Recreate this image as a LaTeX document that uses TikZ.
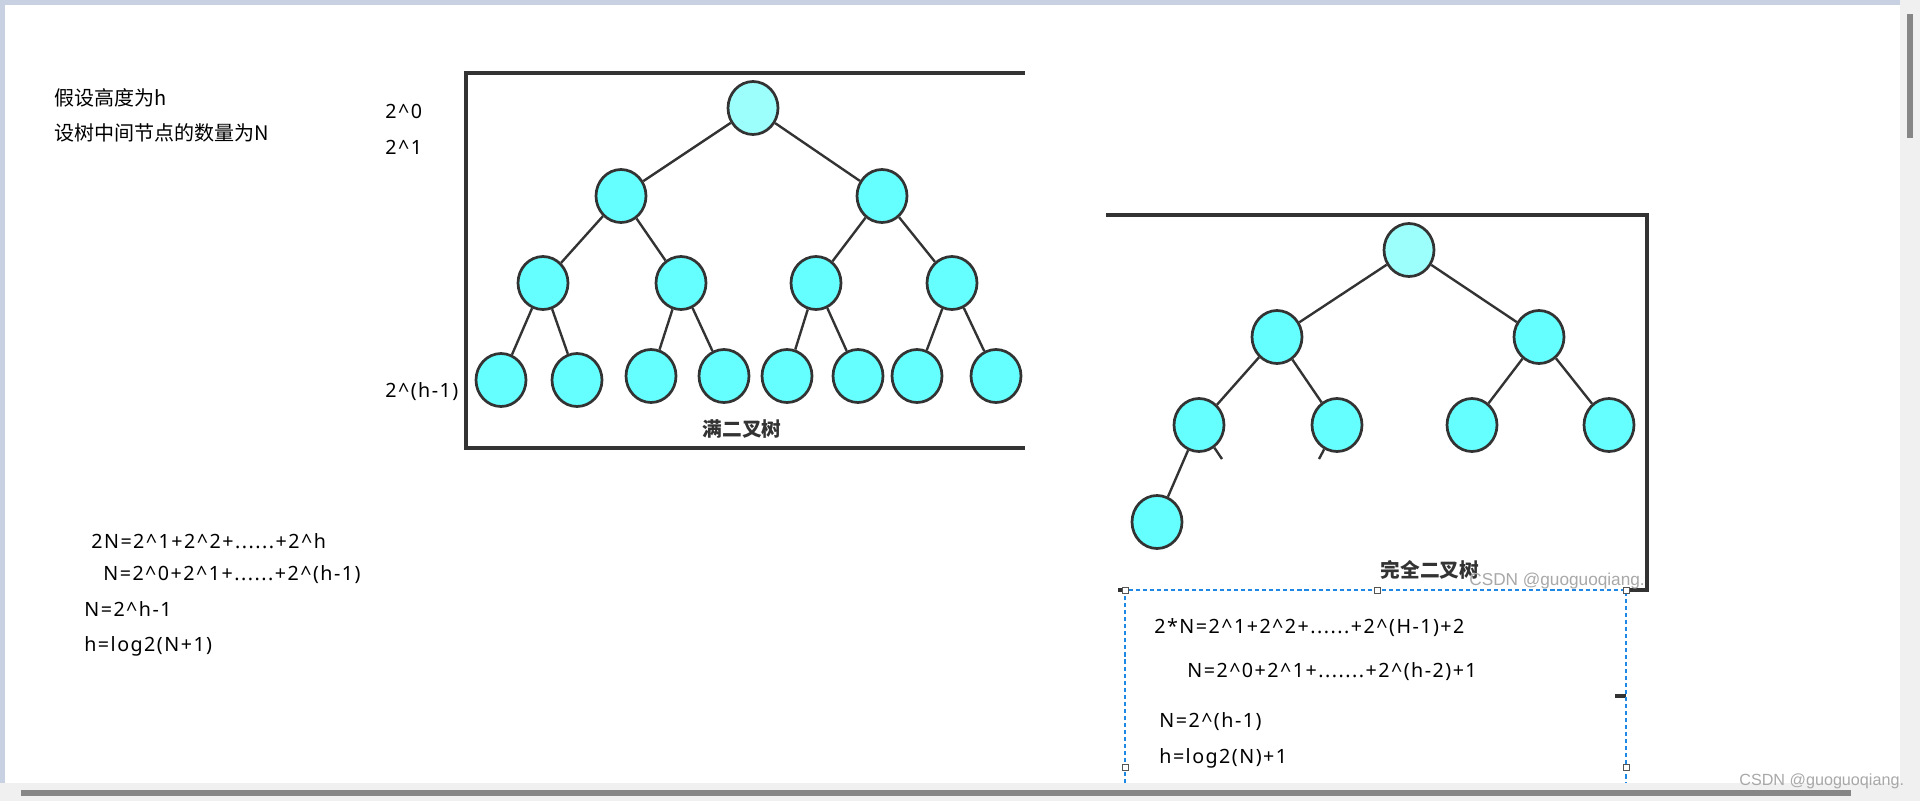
\documentclass[tikz,border=0pt]{standalone}
\usepackage{fontspec}
\setmainfont{Noto Sans CJK SC}
\newfontfamily\markfont{Liberation Sans}
\newfontfamily\formfont[LetterSpace=7.5]{Noto Sans}
\usepackage{xcolor}
\usepackage{tikz}
\usetikzlibrary{shapes.geometric, positioning}
\definecolor{treeCyan}{HTML}{66FFFF}
\definecolor{treeRoot}{HTML}{9CFFFC}
\definecolor{treeLine}{HTML}{333333}
\definecolor{selBlue}{HTML}{1E88E5}
\definecolor{pageStrip}{HTML}{C7D1E1}
\definecolor{barGrey}{HTML}{F0F0F0}
\definecolor{thumbGrey}{HTML}{868686}
\definecolor{markGrey}{HTML}{A8A8A8}
\definecolor{handleGrey}{HTML}{555555}
\newcommand{\bodyfs}{\fontsize{11.4pt}{14pt}\selectfont}
\newcommand{\formfs}{\fontsize{11.2pt}{14pt}\selectfont\formfont}
\newcommand{\labelfs}{\fontsize{11.2pt}{14pt}\selectfont\bfseries}
\newcommand{\markfs}{\fontsize{9.8pt}{12pt}\selectfont\markfont}
\tikzset{
  bt/node/.style   = {ellipse, draw=treeLine, fill=treeCyan, line width=1.55pt,
                      minimum width=1.0cm, minimum height=1.06cm, inner sep=0pt},
  bt/root/.style   = {bt/node, fill=treeRoot},
  bt/edge/.style   = {draw=treeLine, line width=1.35pt},
  bt/frame/.style  = {draw=treeLine, line width=1.75pt},
  bt/text/.style   = {anchor=west, inner sep=0pt, font=\bodyfs, text=black},
  bt/form/.style   = {bt/text, font=\formfs},
  bt/label/.style  = {inner sep=0pt, font=\labelfs, text=treeLine},
  bt/mark/.style   = {anchor=west, inner sep=0pt, font=\markfs, text=markGrey},
  bt/select/.style = {draw=selBlue, line width=0.6pt, dash pattern=on 2.3pt off 1.7pt},
  bt/handle/.style = {rectangle, draw=handleGrey, fill=white, line width=0.5pt,
                      minimum size=0.12cm, inner sep=0pt},
}

\begin{document}
\begin{tikzpicture}[x=0.02cm, y=-0.02cm]
  % --- page, strips and scroll bars ---
  \useasboundingbox (0,0) rectangle (1920,801);
  \fill[white] (0,0) rectangle (1920,801);
  \fill[pageStrip] (0,0) rectangle (1900,5);
  \fill[pageStrip] (0,0) rectangle (5,783);
  \fill[barGrey] (1900,0) rectangle (1920,801);
  \fill[barGrey] (0,783) rectangle (1920,801);
  \fill[thumbGrey] (1907,14) rectangle (1913,138);
  \fill[thumbGrey] (21,790) rectangle (1851,796);

  % --- notes on the left ---
  \node[bt/text] (tH)   at (54,98)   {假设高度为h};
  \node[bt/text] (tN)   at (54,133)  {设树中间节点的数量为N};
  \node[bt/form] (lv0)  at (385,111) {2\^{}0};
  \node[bt/form] (lv1)  at (385,147) {2\^{}1};
  \node[bt/form] (lvh)  at (385,392) {2\^{}(h-1)};
  \node[bt/form] (fA)   at (91,541)  {2N=2\^{}1+2\^{}2+......+2\^{}h};
  \node[bt/form] (fB)   at (103,575) {N=2\^{}0+2\^{}1+......+2\^{}(h-1)};
  \node[bt/form] (fC)   at (84,609)  {N=2\^{}h-1};
  \node[bt/form] (fD)   at (84,646)  {h=log2(N+1)};

  % --- full binary tree ---
  \draw[bt/frame] (1025,73) -- (466,73) -- (466,448) -- (1025,448);
  \node[bt/root] (f0)  at (753,108) {};
  \node[bt/node] (f1a) at (621,196) {};
  \node[bt/node] (f1b) at (882,196) {};
  \node[bt/node] (f2a) at (543,283) {};
  \node[bt/node] (f2b) at (681,283) {};
  \node[bt/node] (f2c) at (816,283) {};
  \node[bt/node] (f2d) at (952,283) {};
  \node[bt/node] (f3a) at (501,380) {};
  \node[bt/node] (f3b) at (577,380) {};
  \node[bt/node] (f3c) at (651,376) {};
  \node[bt/node] (f3d) at (724,376) {};
  \node[bt/node] (f3e) at (787,376) {};
  \node[bt/node] (f3f) at (858,376) {};
  \node[bt/node] (f3g) at (917,376) {};
  \node[bt/node] (f3h) at (996,376) {};
  \foreach \a/\b in {f0/f1a, f0/f1b, f1a/f2a, f1a/f2b, f1b/f2c, f1b/f2d,
                     f2a/f3a, f2a/f3b, f2b/f3c, f2b/f3d, f2c/f3e, f2c/f3f, f2d/f3g, f2d/f3h}
    \draw[bt/edge] (\a) -- (\b);
  \node[bt/label] (fullLbl) at (742,429) {满二叉树};

  % --- complete binary tree ---
  \draw[bt/frame] (1106,215) -- (1647,215) -- (1647,590) -- (1626,590);
  \draw[bt/frame] (1118,590) -- (1125,590);
  \draw[bt/frame] (1615,696) -- (1626,696);
  \node[bt/root] (c0)  at (1409,250) {};
  \node[bt/node] (c1a) at (1277,337) {};
  \node[bt/node] (c1b) at (1539,337) {};
  \node[bt/node] (c2a) at (1199,425) {};
  \node[bt/node] (c2b) at (1337,425) {};
  \node[bt/node] (c2c) at (1472,425) {};
  \node[bt/node] (c2d) at (1609,425) {};
  \node[bt/node] (c3a) at (1157,522) {};
  \coordinate (cs1) at (1222,459);
  \coordinate (cs2) at (1319,459);
  \foreach \a/\b in {c0/c1a, c0/c1b, c1a/c2a, c1a/c2b, c1b/c2c, c1b/c2d, c2a/c3a, c2a/cs1, c2b/cs2}
    \draw[bt/edge] (\a) -- (\b);
  \node[bt/label] (compLbl) at (1430,570) {完全二叉树};
  \node[bt/mark] (mark1) at (1469,581) {CSDN @guoguoqiang.};

  % --- selected text box with formulas ---
  \draw[bt/select] (1125,783) -- (1125,590) -- (1626,590) -- (1626,783);
  \node[bt/handle] (h1) at (1125,590) {};
  \node[bt/handle] (h2) at (1377,590) {};
  \node[bt/handle] (h3) at (1626,590) {};
  \node[bt/handle] (h4) at (1125,767) {};
  \node[bt/handle] (h5) at (1626,767) {};
  \node[bt/form] (gA) at (1154,628) {2*N=2\^{}1+2\^{}2+......+2\^{}(H-1)+2};
  \node[bt/form] (gB) at (1187,672) {N=2\^{}0+2\^{}1+.......+2\^{}(h-2)+1};
  \node[bt/form] (gC) at (1159,722) {N=2\^{}(h-1)};
  \node[bt/form] (gD) at (1159,758) {h=log2(N)+1};

  % --- watermark on the bar ---
  \node[bt/mark, font=\fontsize{9.2pt}{11pt}\selectfont\markfont] (mark2) at (1739,781) {CSDN @guoguoqiang.};
\end{tikzpicture}
\end{document}
